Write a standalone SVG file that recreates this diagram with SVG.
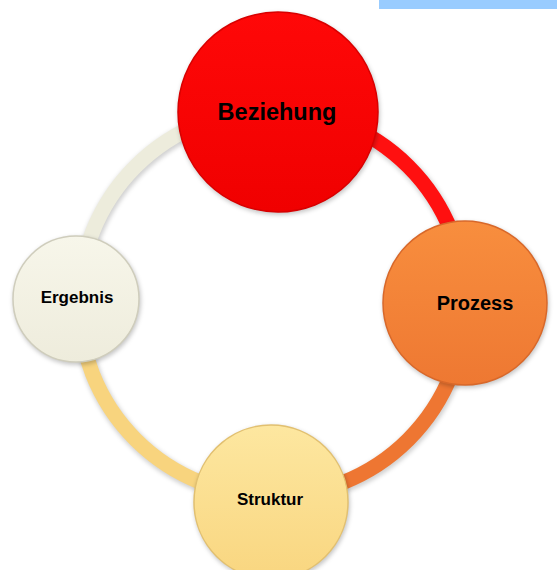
<svg xmlns="http://www.w3.org/2000/svg" width="557" height="570" viewBox="0 0 557 570">
<defs>
<linearGradient id="gRed" x1="0" y1="0" x2="0" y2="1"><stop offset="0" stop-color="#FF0808"/><stop offset="1" stop-color="#F00000"/></linearGradient>
<linearGradient id="gOrg" x1="0" y1="0" x2="0" y2="1"><stop offset="0" stop-color="#F88E3E"/><stop offset="1" stop-color="#EE7832"/></linearGradient>
<linearGradient id="gYel" x1="0" y1="0" x2="0" y2="1"><stop offset="0" stop-color="#FDE7A0"/><stop offset="1" stop-color="#F9D680"/></linearGradient>
<linearGradient id="gCrm" x1="0" y1="0" x2="0" y2="1"><stop offset="0" stop-color="#F7F6EA"/><stop offset="1" stop-color="#EEECDC"/></linearGradient>
<filter id="blur" x="-20%" y="-20%" width="140%" height="140%"><feGaussianBlur stdDeviation="2"/></filter>
</defs>
<style>
.arc{fill:none;stroke-width:15;stroke-linecap:butt}
.arcsh{fill:none;stroke-width:17;stroke:#000;stroke-opacity:0.18}
.shadow{fill:#000;fill-opacity:0.22}
.lbl{font-family:"Liberation Sans",Arial,sans-serif;font-weight:bold;fill:#000;text-anchor:middle}
</style>
<rect x="379" y="0" width="178" height="9" fill="#99CCFF"/>
<g id="connectors">
<circle class="arcsh" cx="273" cy="305" r="193" filter="url(#blur)"/>
<path class="arc" d="M272,110 A193,193 0 0 1 465,303" stroke="#FF1010"/>
<path class="arc" d="M465,303 A193,193 0 0 1 272,496" stroke="#EE7632"/>
<path class="arc" d="M272,496 A193,193 0 0 1 79,303" stroke="#F8D47E"/>
<path class="arc" d="M79,303 A193,193 0 0 1 272,110" stroke="#EDECDC"/>
</g>
<g id="beziehung">
<circle class="shadow" cx="279" cy="114" r="101" filter="url(#blur)"/>
<circle cx="278" cy="112" r="100" fill="url(#gRed)" stroke="#D80000" stroke-width="1.5"/>
<text class="lbl" x="277" y="120" font-size="23.5">Beziehung</text>
</g>
<g id="prozess">
<circle class="shadow" cx="466" cy="305" r="83" filter="url(#blur)"/>
<circle cx="465" cy="303" r="82" fill="url(#gOrg)" stroke="#D8682A" stroke-width="1.5"/>
<text class="lbl" x="475" y="310" font-size="20">Prozess</text>
</g>
<g id="struktur">
<circle class="shadow" cx="272" cy="504" r="78" filter="url(#blur)"/>
<circle cx="271" cy="502" r="77" fill="url(#gYel)" stroke="#E2C070" stroke-width="1.5"/>
<text class="lbl" x="270" y="505" font-size="17">Struktur</text>
</g>
<g id="ergebnis">
<circle class="shadow" cx="77" cy="301" r="64" filter="url(#blur)"/>
<circle cx="76" cy="299" r="63" fill="url(#gCrm)" stroke="#CFCDBC" stroke-width="1.5"/>
<text class="lbl" x="77" y="303" font-size="17">Ergebnis</text>
</g>
</svg>
